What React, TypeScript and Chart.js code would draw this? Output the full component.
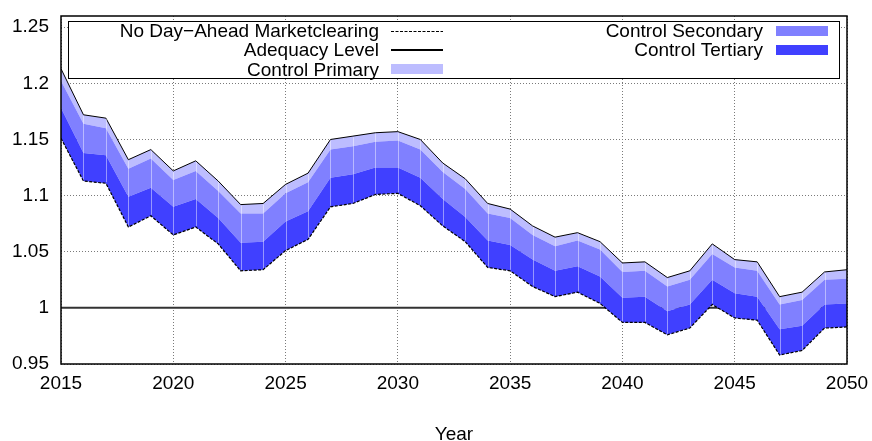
import React, { useEffect, useRef } from "react";
import { Chart, registerables } from "chart.js";

Chart.register(...registerables);

// Reserve margin by year, 2015–2050.
const years = [
  2015, 2016, 2017, 2018, 2019, 2020, 2021, 2022, 2023, 2024, 2025, 2026,
  2027, 2028, 2029, 2030, 2031, 2032, 2033, 2034, 2035, 2036, 2037, 2038,
  2039, 2040, 2041, 2042, 2043, 2044, 2045, 2046, 2047, 2048, 2049, 2050,
];

// Margin without day-ahead market clearing (lower dashed bound).
const noDayAhead = [
  1.151, 1.113, 1.111, 1.072, 1.082, 1.065, 1.072, 1.057, 1.033, 1.034, 1.051, 1.061,
  1.090, 1.093, 1.101, 1.102, 1.091, 1.073, 1.059, 1.036, 1.033, 1.019, 1.010, 1.014,
  1.004, 0.987, 0.987, 0.976, 0.982, 1.003, 0.991, 0.989, 0.958, 0.962, 0.982, 0.983,
];

// Cumulative level after adding tertiary control.
const withTertiary = [
  1.178, 1.138, 1.136, 1.099, 1.107, 1.090, 1.097, 1.080, 1.058, 1.059, 1.077, 1.086,
  1.116, 1.119, 1.125, 1.125, 1.116, 1.097, 1.081, 1.060, 1.056, 1.043, 1.033, 1.037,
  1.028, 1.009, 1.010, 0.997, 1.003, 1.025, 1.013, 1.010, 0.981, 0.984, 1.003, 1.004,
];

// Cumulative level after adding secondary control.
const withSecondary = [
  1.202, 1.164, 1.160, 1.124, 1.133, 1.114, 1.122, 1.104, 1.084, 1.084, 1.102, 1.112,
  1.141, 1.144, 1.148, 1.149, 1.141, 1.121, 1.106, 1.084, 1.080, 1.065, 1.055, 1.060,
  1.052, 1.032, 1.033, 1.019, 1.025, 1.048, 1.036, 1.033, 1.003, 1.007, 1.025, 1.026,
];

// Cumulative level after adding primary control (upper solid bound).
const withPrimary = [
  1.213, 1.172, 1.169, 1.132, 1.141, 1.122, 1.131, 1.113, 1.092, 1.093, 1.110, 1.120,
  1.150, 1.153, 1.156, 1.157, 1.150, 1.129, 1.115, 1.093, 1.088, 1.073, 1.063, 1.067,
  1.059, 1.040, 1.041, 1.027, 1.033, 1.057, 1.043, 1.041, 1.010, 1.014, 1.032, 1.034,
];

const adequacyLevel = 1;

const xTicks = [2015, 2020, 2025, 2030, 2035, 2040, 2045, 2050];
const yTicks = [0.95, 1, 1.05, 1.1, 1.15, 1.2, 1.25];

const COLOR_PRIMARY = "#bdbdff";
const COLOR_SECONDARY = "#8080ff";
const COLOR_TERTIARY = "#4040ff";
const FONT = "Liberation Sans, Arial, sans-serif";

const pts = (vals: number[]) => years.map((x, i) => ({ x, y: vals[i] }));

// Faint seams at each year across the stacked bands.
const bandSeams = {
  id: "bandSeams",
  beforeDatasetDraw(chart: any, args: any) {
    if (args.index !== 0) return;
    const { ctx, scales, chartArea } = chart;
    ctx.save();
    ctx.strokeStyle = "rgba(255,255,255,0.45)";
    ctx.lineWidth = 1;
    years.forEach((yr, i) => {
      const x = Math.round(scales.x.getPixelForValue(yr)) + 0.5;
      if (x <= chartArea.left + 1 || x >= chartArea.right - 1) return;
      ctx.beginPath();
      ctx.moveTo(x, scales.y.getPixelForValue(withPrimary[i]) + 1);
      ctx.lineTo(x, scales.y.getPixelForValue(noDayAhead[i]) - 1);
      ctx.stroke();
    });
    ctx.restore();
  },
};

// Plot frame and key box.
const frameAndKey = {
  id: "frameAndKey",
  afterDraw(chart: any) {
    const { ctx, chartArea } = chart;
    ctx.save();
    ctx.strokeStyle = "#000";
    ctx.lineWidth = 1.5;
    ctx.strokeRect(
      chartArea.left,
      chartArea.top,
      chartArea.right - chartArea.left,
      chartArea.bottom - chartArea.top
    );

    // key
    ctx.fillStyle = "#fff";
    ctx.fillRect(68.5, 21.5, 771, 57);
    ctx.lineWidth = 1;
    ctx.strokeStyle = "#000";
    ctx.strokeRect(68.5, 21.5, 771, 57);

    ctx.font = `19px ${FONT}`;
    ctx.fillStyle = "#000";
    ctx.textAlign = "right";
    ctx.textBaseline = "alphabetic";
    const rows = [37, 56, 75.5];
    const leftText = 379;
    const rightText = 763;

    ctx.fillText("No Day\u2212Ahead Marketclearing", leftText, rows[0]);
    ctx.fillText("Adequacy Level", leftText, rows[1]);
    ctx.fillText("Control Primary", leftText, rows[2]);
    ctx.fillText("Control Secondary", rightText, rows[0]);
    ctx.fillText("Control Tertiary", rightText, rows[1]);

    // samples
    ctx.lineWidth = 1.2;
    ctx.setLineDash([3, 1.5]);
    ctx.beginPath();
    ctx.moveTo(391, 31.5);
    ctx.lineTo(443, 31.5);
    ctx.stroke();
    ctx.setLineDash([]);
    ctx.lineWidth = 2;
    ctx.beginPath();
    ctx.moveTo(391, 50);
    ctx.lineTo(443, 50);
    ctx.stroke();
    ctx.fillStyle = COLOR_PRIMARY;
    ctx.fillRect(391, 64, 52, 10);
    ctx.fillStyle = COLOR_SECONDARY;
    ctx.fillRect(776, 26, 52, 10);
    ctx.fillStyle = COLOR_TERTIARY;
    ctx.fillRect(776, 45, 52, 10);
    ctx.restore();
  },
};

export default function App() {
  const canvasRef = useRef<HTMLCanvasElement | null>(null);

  useEffect(() => {
    document.body.style.margin = "0";
    const canvas = canvasRef.current;
    if (!canvas) return;

    const chart = new Chart(canvas, {
      type: "line",
      data: {
        datasets: [
          {
            label: "No Day\u2212Ahead Marketclearing",
            data: pts(noDayAhead),
            borderColor: "#000",
            borderWidth: 1.2,
            borderDash: [3, 1.5],
            pointRadius: 0,
            fill: false,
          },
          {
            label: "Control Tertiary",
            data: pts(withTertiary),
            borderWidth: 0,
            borderColor: "rgba(0,0,0,0)",
            backgroundColor: COLOR_TERTIARY,
            pointRadius: 0,
            fill: "-1",
          },
          {
            label: "Control Secondary",
            data: pts(withSecondary),
            borderWidth: 0,
            borderColor: "rgba(0,0,0,0)",
            backgroundColor: COLOR_SECONDARY,
            pointRadius: 0,
            fill: "-1",
          },
          {
            label: "Control Primary",
            data: pts(withPrimary),
            borderColor: "#000",
            borderWidth: 1,
            backgroundColor: COLOR_PRIMARY,
            pointRadius: 0,
            fill: "-1",
          },
          {
            label: "Adequacy Level",
            data: pts(years.map(() => adequacyLevel)),
            borderColor: "#333",
            borderWidth: 2,
            pointRadius: 0,
            fill: false,
          },
        ],
      },
      options: {
        responsive: false,
        animation: false,
        events: [],
        layout: { padding: { left: 0, right: 25, top: 16, bottom: 0 } },
        plugins: {
          legend: { display: false },
          tooltip: { enabled: false },
          title: { display: false },
        },
        scales: {
          x: {
            type: "linear",
            min: 2015,
            max: 2050,
            afterBuildTicks: (scale: any) => {
              scale.ticks = xTicks.map((value) => ({ value }));
            },
            afterFit: (scale: any) => {
              scale.height = 77;
              scale.paddingLeft = 0;
              scale.paddingRight = 0;
            },
            ticks: {
              padding: 8,
              color: "#000",
              font: { family: FONT, size: 19 },
              callback: (v: any) => String(v),
              maxRotation: 0,
            },
            grid: { color: "#7a7a7a", lineWidth: 1, drawTicks: false },
            border: { display: false, dash: [1, 2] },
            title: {
              display: true,
              text: "Year",
              color: "#000",
              font: { family: FONT, size: 19 },
              padding: { top: 0, bottom: -5 },
            },
          },
          y: {
            type: "linear",
            min: 0.95,
            max: 1.26,
            afterBuildTicks: (scale: any) => {
              scale.ticks = yTicks.map((value) => ({ value }));
            },
            afterFit: (scale: any) => {
              scale.width = 61;
              scale.paddingTop = 0;
              scale.paddingBottom = 0;
            },
            ticks: {
              padding: 12,
              color: "#000",
              font: { family: FONT, size: 19 },
              callback: (v: any) => String(+Number(v).toFixed(2)),
            },
            grid: { color: "#7a7a7a", lineWidth: 1, drawTicks: false },
            border: { display: false, dash: [1, 2] },
          },
        },
      },
      plugins: [bandSeams, frameAndKey],
    });

    return () => chart.destroy();
  }, []);

  return (
    <div style={{ width: 872, height: 441 }}>
      <canvas ref={canvasRef} width={872} height={441} />
    </div>
  );
}
